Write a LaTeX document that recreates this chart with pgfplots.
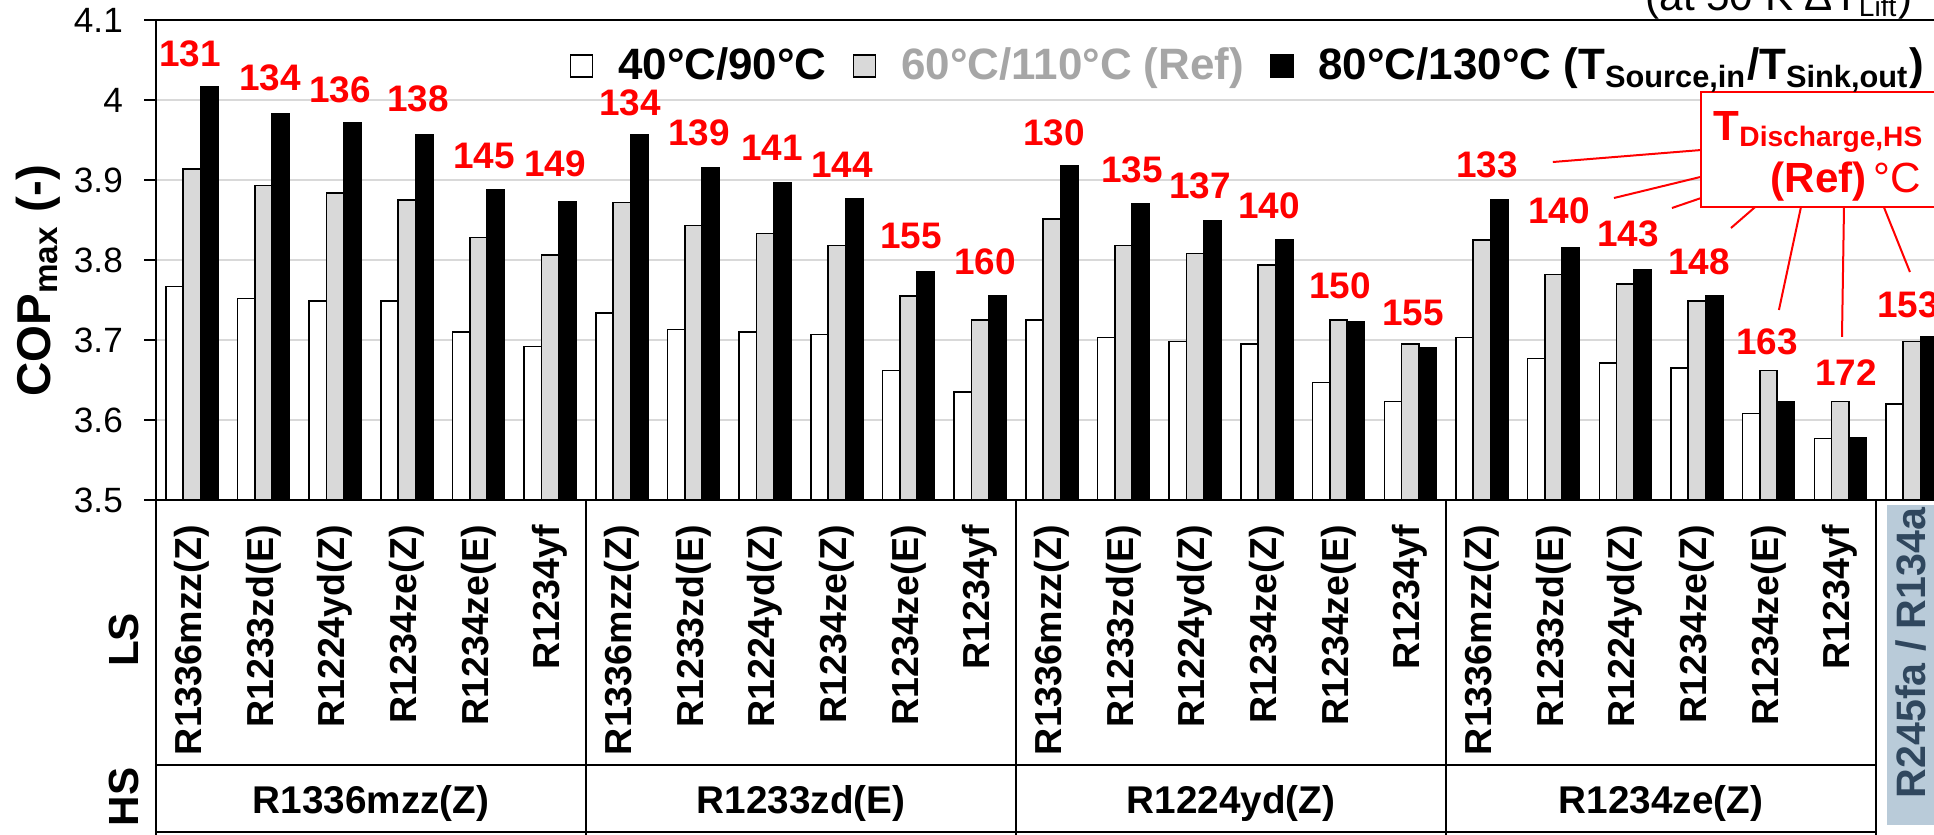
\documentclass[border=0pt]{standalone}
\usepackage{fontspec}
\setmainfont{Liberation Sans}
\usepackage{pgfplots}
\usepackage{pgfplotstable}
\pgfplotsset{compat=1.18}

\definecolor{barGray}{HTML}{D9D9D9}
\definecolor{gridGray}{HTML}{D9D9D9}
\definecolor{legGray}{HTML}{A6A6A6}
\definecolor{tRed}{HTML}{FF0000}
\definecolor{refBox}{HTML}{B9CBD9}
\definecolor{refText}{HTML}{30475E}

\newcommand\fs[1]{\fontsize{#1pt}{#1pt}\selectfont}

\pgfplotsset{sqleg/.style={legend image code/.code={\draw[##1,line width=0.15mm] (0mm,-1.1mm) rectangle (2.2mm,1.1mm);}}}

% COP_max for the three source/sink temperature pairs
\pgfplotstableread{
x  lo     ref    hi
0  3.767  3.914  4.017
1  3.752  3.893  3.983
2  3.749  3.884  3.972
3  3.749  3.875  3.957
4  3.710  3.828  3.888
5  3.692  3.806  3.873
6  3.734  3.872  3.957
7  3.713  3.843  3.915
8  3.710  3.833  3.897
9  3.707  3.818  3.876
10 3.662  3.755  3.785
11 3.635  3.725  3.755
12 3.725  3.851  3.918
13 3.703  3.818  3.870
14 3.698  3.808  3.849
15 3.695  3.794  3.825
16 3.647  3.725  3.723
17 3.623  3.695  3.690
18 3.703  3.825  3.875
19 3.677  3.782  3.815
20 3.671  3.770  3.788
21 3.665  3.749  3.755
22 3.608  3.662  3.623
23 3.577  3.623  3.578
24 3.620  3.698  3.704
}\copdata

% HS discharge temperatures (Ref), placed above each group
\pgfplotstableread{
x       y       t
-0.026  4.041   131
1.091   4.010   134
2.067   3.996   136
3.156   3.984   138
4.077   3.913   145
5.067   3.903   149
6.114   3.979   134
7.076   3.942   139
8.095   3.923   141
9.072   3.902   144
10.034  3.813   155
11.067  3.781   160
12.030  3.942   130
13.118  3.896   135
14.067  3.875   137
15.030  3.850   140
16.020  3.750   150
17.039  3.717   155
18.071  3.902   133
19.076  3.844   140
20.039  3.815   143
21.029  3.781   148
21.978  3.681   163
23.080  3.642   172
23.945  3.727   153
}\tdis

\begin{document}
\begin{tikzpicture}
\useasboundingbox (0,0) rectangle (193.4mm,83.4mm);
\clip (0,0) rectangle (193.4mm,83.4mm);
\begin{axis}[
  at={(15.6mm,33.4mm)}, anchor=south west,
  scale only axis, width=179.17mm, height=48mm,
  xmin=-0.5, xmax=24.5, ymin=3.5, ymax=4.1,
  clip mode=individual,
  axis line style={line width=0.2mm, black},
  ytick={3.5,3.6,3.7,3.8,3.9,4.0,4.1},
  ymajorgrids, grid style={gridGray, line width=0.2mm},
  ytick pos=left, xtick pos=bottom,
  tick align=outside, major tick length=1.15mm,
  ytick style={line width=0.2mm, black},
  /pgf/number format/assume math mode=true,
  yticklabel style={font=\fs{10}, inner sep=0pt, xshift=-2.1mm},
  xtick={0,...,23}, xtick style={draw=none},
  xticklabels={R1336mzz(Z),R1233zd(E),R1224yd(Z),R1234ze(Z),R1234ze(E),R1234yf,
               R1336mzz(Z),R1233zd(E),R1224yd(Z),R1234ze(Z),R1234ze(E),R1234yf,
               R1336mzz(Z),R1233zd(E),R1224yd(Z),R1234ze(Z),R1234ze(E),R1234yf,
               R1336mzz(Z),R1233zd(E),R1224yd(Z),R1234ze(Z),R1234ze(E),R1234yf},
  xticklabel style={rotate=90, anchor=east, font=\fs{10.7}\bfseries, inner sep=0pt},
  xticklabel shift=1.3mm,
  legend columns=3,
  legend cell align=left,
  legend style={at={(0.2305,0.904)}, anchor=west, draw=none, fill=none,
    inner sep=0pt, font=\fs{12.5}\bfseries, nodes={inner sep=0pt},
    /tikz/every odd column/.append style={column sep=2.5mm},
    /tikz/every even column/.append style={column sep=2.6mm},
    /tikz/column 4/.append style={column sep=3.5mm}},
]
\addplot[ybar, bar width=1.73mm, bar shift=-1.73mm, fill=white, draw=black, line width=0.15mm, sqleg]
  table[x=x, y=lo] {\copdata};
\addlegendentry{40°C/90°C}
\addplot[ybar, bar width=1.73mm, bar shift=0mm, fill=barGray, draw=black, line width=0.15mm, sqleg]
  table[x=x, y=ref] {\copdata};
\addlegendentry{\textcolor{legGray}{60°C/110°C (Ref)}}
\addplot[ybar, bar width=1.73mm, bar shift=1.73mm, fill=black, draw=black, line width=0.15mm, sqleg]
  table[x=x, y=hi] {\copdata};
\addlegendentry{80°C/130°C (T\textsubscript{Source,in}/T\textsubscript{Sink,out})}

% discharge temperature labels
\addplot[draw=none, forget plot, nodes near coords, point meta=explicit symbolic,
  nodes near coords style={anchor=south, inner sep=0pt, font=\fs{10.5}\bfseries, text=tRed}]
  table[x=x, y=y, meta=t] {\tdis};

% callout lines and box
\draw[tRed, line width=0.2mm] (axis cs:18.99,3.9225) -- (axis cs:21.06,3.9375);
\draw[tRed, line width=0.2mm] (axis cs:19.843,3.8775) -- (axis cs:21.06,3.904);
\draw[tRed, line width=0.2mm] (axis cs:20.652,3.865) -- (axis cs:21.06,3.8775);
\draw[tRed, line width=0.2mm] (axis cs:21.476,3.84) -- (axis cs:21.81,3.866);
\draw[tRed, line width=0.2mm] (axis cs:22.145,3.7375) -- (axis cs:22.452,3.866);
\draw[tRed, line width=0.2mm] (axis cs:23.025,3.704) -- (axis cs:23.053,3.866);
\draw[tRed, line width=0.2mm] (axis cs:23.973,3.785) -- (axis cs:23.61,3.866);
\draw[tRed, line width=0.2mm, fill=white] (axis cs:21.057,4.010) rectangle (axis cs:24.7,3.866);
\node[anchor=base west, inner sep=0pt, text=tRed, font=\fs{12}\bfseries]
  at (axis cs:21.225,3.95) {T\textsubscript{Discharge,HS}};
\node[anchor=base west, inner sep=0pt, text=tRed, font=\fs{12}]
  at (axis cs:22.02,3.885) {\textbf{(Ref)}\,°C};

% title fragment above the frame
\node[anchor=base east, inner sep=0pt, font=\fs{12}]
  at (axis cs:24.015,4.1125) {(at 50 K ΔT\textsubscript{Lift})};

% y axis title
\node[rotate=90, font=\fs{13.5}\bfseries] at (axis cs:-2.146,3.774) {COP\textsubscript{max} (-)};

% category table below the axis
\draw[line width=0.2mm] (axis cs:-0.5,3.5) -- (axis cs:-0.5,3.08);
\draw[line width=0.2mm] (axis cs:5.5,3.5) -- (axis cs:5.5,3.08);
\draw[line width=0.2mm] (axis cs:11.5,3.5) -- (axis cs:11.5,3.08);
\draw[line width=0.2mm] (axis cs:17.5,3.5) -- (axis cs:17.5,3.08);
\draw[line width=0.2mm] (axis cs:23.5,3.5) -- (axis cs:23.5,3.08);
\draw[line width=0.2mm] (axis cs:-0.5,3.16875) -- (axis cs:23.5,3.16875);
\draw[line width=0.2mm] (axis cs:-0.5,3.085) -- (axis cs:23.5,3.085);

\node[rotate=90, font=\fs{12}\bfseries] at (axis cs:-0.9465,3.325) {LS};
\node[rotate=90, font=\fs{12}\bfseries] at (axis cs:-0.9465,3.12875) {HS};

\node[anchor=base, font=\fs{11}\bfseries] at (axis cs:2.5,3.10875) {R1336mzz(Z)};
\node[anchor=base, font=\fs{11}\bfseries] at (axis cs:8.5,3.10875) {R1233zd(E)};
\node[anchor=base, font=\fs{11}\bfseries] at (axis cs:14.5,3.10875) {R1224yd(Z)};
\node[anchor=base, font=\fs{11}\bfseries] at (axis cs:20.5,3.10875) {R1234ze(Z)};

\fill[refBox] (axis cs:23.652,3.49375) rectangle (axis cs:24.7,3.09375);
\node[rotate=90, font=\fs{11.7}\bfseries, text=refText] at (axis cs:23.987,3.30875) {R245fa / R134a};
\end{axis}
\end{tikzpicture}
\end{document}
